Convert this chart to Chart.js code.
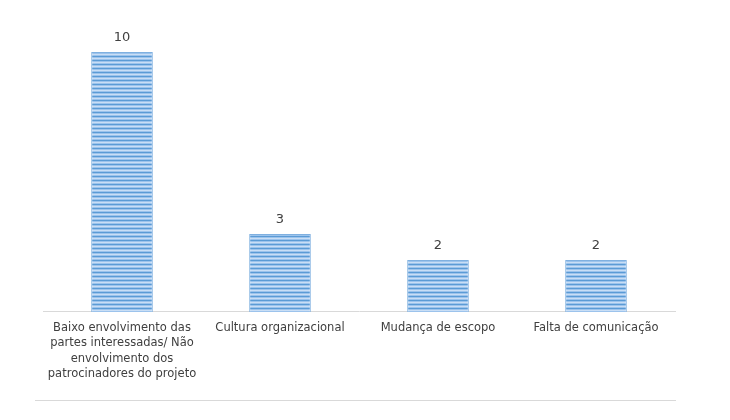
<!DOCTYPE html>
<html><head><meta charset="utf-8">
<script src="https://cdn.jsdelivr.net/npm/chart.js"></script>
<style>body{margin:0;background:#fff}#w{position:relative;width:730px;height:420px}
#line{position:absolute;left:35px;top:400px;width:641px;height:1px;background:#d9d9d9}</style>
</head><body><div id="w"><canvas id="c" width="730" height="420"></canvas><div id="line"></div></div>
<script>
const categories=[["Baixo envolvimento das","partes interessadas/ Não","envolvimento dos","patrocinadores do projeto"],"Cultura organizacional","Mudança de escopo","Falta de comunicação"];
const values=[10,3,2,2];
const pc=document.createElement('canvas');pc.width=4;pc.height=4;
const g=pc.getContext('2d');
g.fillStyle='#9cc3ec';g.fillRect(0,0,4,4);
g.fillStyle='#5b9bd5';g.fillRect(0,0,4,1);
g.fillStyle='#c9def5';g.fillRect(0,2,4,1);
const ctx=document.getElementById('c').getContext('2d');
const pat=ctx.createPattern(pc,'repeat');
const labelPlugin={id:'lbl',afterDatasetsDraw(ch){const c=ch.ctx;const m=ch.getDatasetMeta(0);
c.save();c.font='13px "DejaVu Sans", Calibri, sans-serif';c.fillStyle='#404040';c.textAlign='center';c.textBaseline='bottom';
m.data.forEach((b,i)=>c.fillText(values[i],b.x,b.y-8));c.restore();}};
new Chart(ctx,{type:'bar',data:{labels:categories,datasets:[{data:values,backgroundColor:pat,borderColor:'#7fb0e0',borderWidth:1,categoryPercentage:1,barPercentage:0.39}]},
options:{responsive:false,animation:false,layout:{padding:{left:43,right:55,top:26,bottom:30}},
plugins:{legend:{display:false},tooltip:{enabled:false}},
scales:{y:{display:false,min:0,max:11},
x:{grid:{display:false,drawTicks:false},border:{color:'#d9d9d9'},ticks:{color:'#404040',padding:8,maxRotation:0,font:{family:'"DejaVu Sans", sans-serif',size:11.5,lineHeight:1.35}}}}},
plugins:[labelPlugin]});
</script></body></html>
